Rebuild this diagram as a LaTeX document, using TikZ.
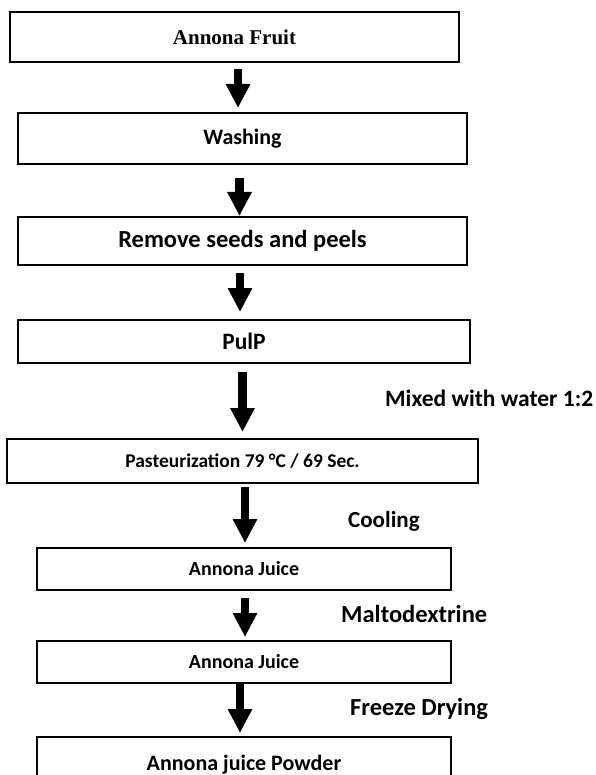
\documentclass[tikz,border=0pt]{standalone}
\usepackage{fontspec}
\setmainfont{Carlito}
\newfontfamily\serifbold{Liberation Serif}
\usetikzlibrary{arrows.meta}
\tikzset{
  box/.style={draw, line width=1.4pt, anchor=north west, inner sep=0pt, outer sep=0pt, align=center},
  flow/.style={line width=8.5pt, -{Triangle[width=23pt,length=24pt]}},
  lbl/.style={anchor=west, inner sep=0pt, font=\fontsize{24.5}{28}\selectfont\bfseries},
  fs/.style={font=\fontsize{#1}{#1}\selectfont\bfseries}
}
\begin{document}
\begin{tikzpicture}[x=1pt,y=-1pt]
\useasboundingbox (0,0) rectangle (595,775);
\clip (0,0) rectangle (595,775);
\node[box, minimum width=449pt, minimum height=50pt, font=\fontsize{21}{25}\selectfont\serifbold\bfseries] (b1) at (10,12) {Annona Fruit};
\node[box, fs=22, minimum width=449pt, minimum height=51pt] (b2) at (18,113) {Washing};
\node[box, fs=24.5, minimum width=449pt, minimum height=48pt] (b3) at (18,217) {Remove seeds and peels};
\node[box, fs=23.5, minimum width=452pt, minimum height=43pt] (b4) at (18,320) {PulP};
\node[box, fs=19.5, minimum width=471pt, minimum height=44pt] (b5) at (7,439) {Pasteurization 79 °C / 69 Sec.};
\node[box, fs=20, minimum width=414pt, minimum height=42pt] (b6) at (37,548) {Annona Juice};
\node[box, fs=20, minimum width=414pt, minimum height=42pt] (b7) at (37,641) {Annona Juice};
\node[box, fs=22, minimum width=414pt, minimum height=56pt] (b8) at (37,737) {Annona juice Powder};

\draw[flow, shorten <=7pt, shorten >=5pt] (b1.south -| 238,0) -- (b2.north -| 238,0);
\draw[flow, shorten <=14pt, shorten >=1pt] (b2.south -| 239.5,0) -- (b3.north -| 239.5,0);
\draw[flow, shorten <=8pt, shorten >=8pt] (b3.south -| 240,0) -- (b4.north -| 240,0);
\draw[flow, shorten <=9pt, shorten >=7pt] (b4.south -| 242.5,0) -- (b5.north -| 242.5,0);
\draw[flow, shorten <=4pt, shorten >=5pt] (b5.south -| 245,0) -- (b6.north -| 245,0);
\draw[flow, shorten <=8pt, shorten >=4pt] (b6.south -| 245,0) -- (b7.north -| 245,0);
\draw[flow, shorten <=0pt, shorten >=4pt] (b7.south -| 240,0) -- (b8.north -| 240,0);

\node[lbl, font=\fontsize{23.5}{28}\selectfont\bfseries] (l1) at (385,398) {Mixed with water 1:2};
\node[lbl, font=\fontsize{23}{28}\selectfont\bfseries] (l2) at (348,521) {Cooling};
\node[lbl] (l3) at (341,614) {Maltodextrine};
\node[lbl] (l4) at (350,709) {Freeze Drying};
\end{tikzpicture}
\end{document}
